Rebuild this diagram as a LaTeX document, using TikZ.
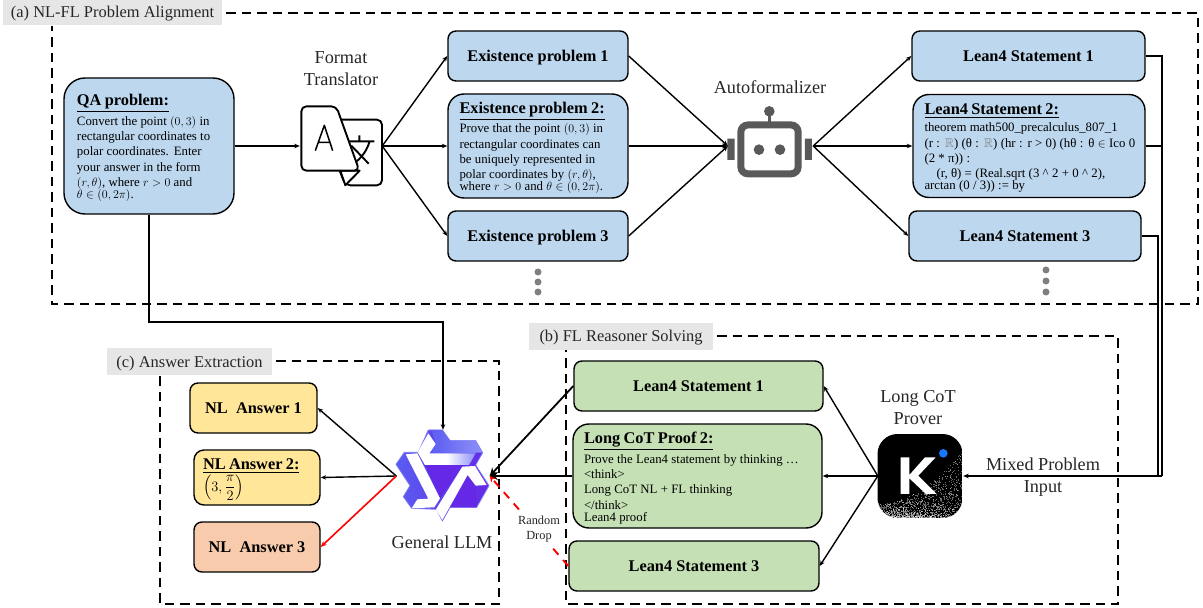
\documentclass[tikz,border=0pt]{standalone}
\usepackage{amssymb}
\usepackage{fontspec}
\setmainfont{Liberation Serif}
\usetikzlibrary{arrows.meta,calc}
\definecolor{bluebox}{HTML}{BDD7EE}
\definecolor{yellowbox}{HTML}{FFE699}
\definecolor{orangebox}{HTML}{F8CBAD}
\definecolor{greenbox}{HTML}{C5E0B4}
\definecolor{tagbg}{HTML}{E6E6E6}
\definecolor{iconink}{HTML}{595959}
\definecolor{dotgray}{HTML}{7F7F7F}
\definecolor{qdeep}{HTML}{6528E6}
\definecolor{qmid}{HTML}{5A5CF0}
\definecolor{qlight}{HTML}{8E90F8}
\definecolor{qedge}{HTML}{7B7BF6}
\definecolor{kblue}{HTML}{1677FF}
\newcommand{\bodyfont}{\fontsize{12.85}{15.4}\selectfont}
\newcommand{\titlefont}{\fontsize{16.4}{17}\selectfont\bfseries}
\newcommand{\labelfont}{\fontsize{18.3}{22}\selectfont}
\newcommand{\tagfont}{\fontsize{16.5}{20}\selectfont}
\newcommand{\toppad}{\rule{0pt}{15.5bp}}
\tikzset{
  x=1bp,y=-1bp,
  box/.style={draw=black,line width=1.4bp,rounded corners=8bp,inner sep=0pt,align=center,font=\titlefont,text height=11bp,text depth=0bp},
  textbox/.style={draw=black,line width=1.4bp,rounded corners=16bp,inner xsep=11.5bp,inner ysep=0pt,align=left},
  icon/.style={inner sep=0pt,draw=none},
  frame/.style={draw=black,line width=2.4bp,dash pattern=on 9.5bp off 6bp},
  tag/.style={fill=tagbg,inner sep=0pt,font=\tagfont,text=black!85,text height=11bp,text depth=0bp},
  caption/.style={inner sep=0pt,align=center,font=\labelfont,text=black!85},
  conn/.style={draw=black,line width=1.4bp,-{Stealth[length=5.5bp,width=4.5bp]}},
  heavy/.style={draw=black,line width=1.8bp,-{Stealth[length=8bp,width=8bp]}},
  plain/.style={draw=black,line width=1.4bp},
  redconn/.style={draw=red,line width=1.6bp,-{Stealth[length=6bp,width=5bp]}},
  reddash/.style={draw=red,line width=1.9bp,dash pattern=on 8bp off 7bp,-{Stealth[length=6bp,width=6bp]}},
  morepts/.style={fill=dotgray,draw=none,circle,inner sep=0pt,minimum size=7bp},
}
\begin{document}
\begin{tikzpicture}
\useasboundingbox (0,0) rectangle (1203,608);
% frames
\draw[frame] (226,13) -- (1198,13) -- (1198,304) -- (52,304) -- (52,26);
\draw[frame] (717,336) -- (1118,336) -- (1118,604) -- (566,604) -- (566,350);
\draw[frame] (276,361) -- (499,361) -- (499,604) -- (160,604) -- (160,375);
\node[tag,minimum width=219bp,minimum height=25bp] (taga) at (112.5,12.5) {(a) NL-FL Problem Alignment};
\node[tag,minimum width=184bp,minimum height=27bp] (tagb) at (621,336.5) {(b) FL Reasoner Solving};
\node[tag,minimum width=165bp,minimum height=27bp] (tagc) at (189.5,361.5) {(c) Answer Extraction};
% problem boxes
\node[textbox,fill=bluebox,rounded corners=21bp,inner xsep=13bp,minimum width=170bp,minimum height=136bp,text width=144bp] (qa) at (149,146)
 {\toppad{\titlefont\underline{QA problem:}}\\[2.6bp]\bodyfont Convert the point $(0,3)$ in\\ rectangular coordinates to\\ polar coordinates. Enter\\ your answer in the form\\ $(r,\theta)$, where $r>0$ and\\ $\theta\in(0,2\pi)$.};
\node[box,fill=bluebox,minimum width=180bp,minimum height=50bp] (ex1) at (538,56) {Existence problem 1};
\node[textbox,fill=bluebox,minimum width=180bp,minimum height=104bp,text width=157bp] (ex2) at (538,146)
 {\toppad{\titlefont\underline{Existence problem 2:}}\\[2.6bp]\bodyfont Prove that the point $(0,3)$ in\\ rectangular coordinates can\\ be uniquely represented in\\ polar coordinates by $(r,\theta)$,\\ where $r>0$ and $\theta\in(0,2\pi)$.};
\node[box,fill=bluebox,minimum width=180bp,minimum height=50bp] (ex3) at (538,236) {Existence problem 3};
\node[box,fill=bluebox,minimum width=233bp,minimum height=50bp] (lean1) at (1028.5,56) {Lean4 Statement 1};
\node[textbox,fill=bluebox,minimum width=232bp,minimum height=103bp,text width=209bp] (lean2) at (1029,146)
 {\toppad{\titlefont\underline{Lean4 Statement 2:}}\\[1.6bp]\bodyfont theorem math500\_precalculus\_807\_1\\ \mbox{(r : \textcolor{gray}{$\mathbb{R}$}) (θ : \textcolor{gray}{$\mathbb{R}$}) (hr : r > 0) (hθ : θ $\in$ Ico 0}\\ (2 * π)) :\\ \hspace*{12bp}(r, θ) = (Real.sqrt (3 \^{} 2 + 0 \^{} 2),\\ arctan (0 / 3)) := by};
\node[box,fill=bluebox,minimum width=232bp,minimum height=50bp] (lean3) at (1025,236) {Lean4 Statement 3};
\node[morepts] (da1) at (538,272) {};
\node[morepts] (da2) at (538,282) {};
\node[morepts] (da3) at (538,292) {};
\node[morepts] (db1) at (1046,270) {};
\node[morepts] (db2) at (1046,281) {};
\node[morepts] (db3) at (1046,292) {};
% FL boxes
\node[box,fill=greenbox,minimum width=249bp,minimum height=50bp] (fl1) at (698.5,386) {Lean4 Statement 1};
\node[textbox,fill=greenbox,inner xsep=11bp,minimum width=249bp,minimum height=104bp,text width=227bp] (proof) at (697.5,476)
 {\toppad{\titlefont\underline{Long CoT Proof 2:}}\\[2.6bp]\bodyfont Prove the Lean4 statement by thinking …\\ <think>\\ Long CoT NL + FL thinking\\ </think>\\ Lean4 proof};
\node[box,fill=greenbox,minimum width=250bp,minimum height=50bp] (fl3) at (694,566) {Lean4 Statement 3};
% answers
\node[box,fill=yellowbox,minimum width=127bp,minimum height=50bp] (ans1) at (253.5,408) {NL\ \ Answer 1};
\node[textbox,fill=yellowbox,rounded corners=10bp,inner xsep=9bp,minimum width=126bp,minimum height=55bp,text width=108bp] (ans2) at (257,477.5)
 {\toppad{\titlefont\underline{NL Answer 2:}}\\[1bp]{\fontsize{14}{15}\selectfont$\displaystyle\left(3,\frac{\pi}{2}\right)$}};
\node[box,fill=orangebox,minimum width=126bp,minimum height=50bp] (ans3) at (257,547) {NL\ \ Answer 3};
% captions
\node[caption] (cap1) at (341,69) {Format\\Translator};
\node[caption] (cap2) at (770,87) {Autoformalizer};
\node[caption] (cap3) at (918,408) {Long CoT\\Prover};
\node[caption] (cap4) at (1043,477) {Mixed Problem\\Input};
\node[caption] (cap5) at (442,542) {General LLM};
% icons as anchors
\node[icon,minimum width=82bp,minimum height=81bp] (trans) at (341,146) {};
\node[icon,minimum width=85bp,minimum height=70bp] (robot) at (770.5,146) {};
\node[icon,minimum width=93bp,minimum height=92bp] (logo) at (443,476) {};
\node[icon,minimum width=85bp,minimum height=84bp] (kimi) at (920.5,476) {};
% translator icon
\begin{scope}[shift={(292,98)},x=0.3333bp,y=-0.3333bp,line width=1.9bp,line join=round]
 \draw[rounded corners=5bp] (150,65) -- (270,65) -- (270,262) -- (160,262) -- (143,218);
 \draw (165,130) -- (247,130) (202,112) -- (202,130) (178,143) -- (230,197) (232,133) .. controls (222,165) and (200,190) .. (172,205);
 \draw[fill=white] (145,218) -- (160,262) -- (203,218) -- cycle;
 \draw[fill=white,rounded corners=5bp] (28,25) -- (133,25) -- (202,218) -- (28,218) -- cycle;
 \draw[line width=1.5bp] (70,158) -- (97,82) -- (122,158) (78,133) -- (114,133);
\end{scope}
% robot icon
\begin{scope}[shift={(720,98)},x=0.3333bp,y=-0.3333bp]
 \draw[iconink,line width=7bp,fill=white,rounded corners=7bp] (62.5,81) rectangle (234.5,227.5);
 \fill[iconink] (148,40) circle[radius=5.3bp];
 \draw[iconink,line width=3.5bp] (148,40) -- (148,75);
 \fill[iconink] (117,155) circle[radius=5.3bp] (180,155) circle[radius=5.3bp];
 \fill[iconink] (22,122) rectangle (44,186) (255,122) rectangle (276,186);
\end{scope}
% qwen-like logo
\begin{scope}[shift={(385,420)},x=0.3333bp,y=-0.3333bp,line join=round]
 \shade[left color=qmid,right color=qdeep,draw=qedge,line width=0.8bp]
   (130,30) -- (172,30) -- (195,62) -- (272,62) -- (293,98) -- (272,135) -- (312,197) -- (275,262) -- (195,262) -- (172,303) -- (155,268) -- (80,265) -- (55,230) -- (75,197) -- (33,133) -- (58,97) -- (100,97) -- cycle;
 \shade[left color=qmid,right color=qlight] (140,32) -- (172,30) -- (195,62) -- (272,62) -- (293,98) -- (133,100) -- (152,72) -- cycle;
 \fill[qdeep] (120,135) -- (235,135) -- (165,235) -- cycle;
 \fill[qdeep] (172,303) -- (248,165) -- (272,197) -- (275,262) -- (195,262) -- cycle;
 \shade[left color=white,right color=qlight,middle color=white] (130,40) -- (152,72) -- (133,100) -- (272,100) -- (252,135) -- (120,135) -- (98,97) -- cycle;
 \fill[white] (62,103) -- (97,100) -- (165,235) -- (148,262) -- (80,265) -- (97,238) -- (130,236) -- cycle;
 \fill[white] (305,195) -- (270,138) -- (232,140) -- (153,268) -- (172,300) -- (248,165) -- (272,197) -- cycle;
\end{scope}
% kimi-like icon
\begin{scope}
 \clip[rounded corners=20bp] (877.5,434) rectangle (962.5,518);
 \fill[black] (877,434) rectangle (963,518);
 \pgfmathsetseed{11}
 \foreach \i in {1,...,1400}{
   \pgfmathsetmacro{\fx}{rnd}
   \pgfmathsetmacro{\fy}{rnd}
   \pgfmathsetmacro{\px}{877+85*\fx}
   \pgfmathsetmacro{\py}{518-(14+52*\fx*\fx)*\fy*\fy-1}
   \fill[white,opacity=0.4] (\px,\py) rectangle ++(0.7,0.7);
 }
\end{scope}
\begin{scope}[shift={(870,425)},x=0.3333bp,y=-0.3333bp]
 \fill[white] (92,97) -- (118,97) -- (118,150) -- (165,97) -- (197,97) -- (145,152) -- (200,207) -- (168,207) -- (118,160) -- (118,207) -- (92,207) -- cycle;
 \fill[kblue] (220,85) circle[radius=4.3bp];
\end{scope}
% connector helpers
\coordinate (jog) at (443,322);
\coordinate (busa) at (1162,476);
\coordinate (busb) at (1158,476);
% connectors
\draw[conn] (qa.east) -- (trans.west);
\draw[conn] (trans.east) -- (ex1.west);
\draw[conn] (trans.east) -- (ex2.west);
\draw[conn] (trans.east) -- (ex3.west);
\draw[conn] (ex1.east) -- (robot.west);
\draw[conn] (ex2.east) -- (robot.west);
\draw[conn] (ex3.east) -- (robot.west);
\draw[conn] (robot.east) -- (lean1.west);
\draw[conn] (robot.east) -- (lean2.west);
\draw[conn] (robot.east) -- (lean3.west);
\draw[conn] (qa.south) |- (jog) -- (logo.north);
\draw[plain] (lean1.east) -| (busa);
\draw[plain] (lean2.east) -| (busa);
\draw[plain] (lean3.east) -| (busb);
\draw[conn,line width=1.7bp] (busa) -- (kimi.east);
\draw[conn] (kimi.west) -- (proof.east);
\draw[conn] (kimi.west) -- (fl1.east);
\draw[conn] (kimi.west) -- (fl3.east);
\draw[heavy] (fl1.west) -- (logo.east);
\draw[heavy] (proof.west) -- (logo.east);
\draw[reddash] (fl3.west) -- (logo.east);
\draw[conn] (logo.west) -- (ans1.east);
\draw[conn] (logo.west) -- (ans2.east);
\draw[redconn] (logo.west) -- (ans3.east);
\node[fill=white,inner sep=1pt,align=center,font=\fontsize{12.4}{16}\selectfont,text=black!85] (drop) at (539,529) {Random\\Drop};
\end{tikzpicture}
\end{document}
